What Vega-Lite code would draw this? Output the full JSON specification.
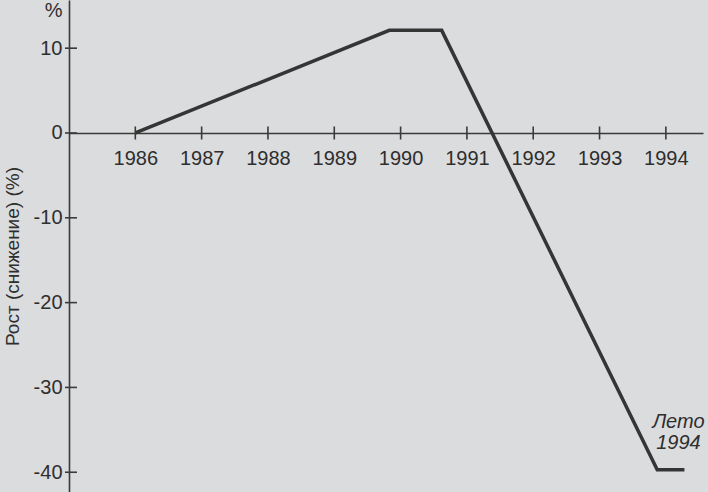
{
  "$schema": "https://vega.github.io/schema/vega-lite/v6.json",
  "autosize": "none",
  "width": 634,
  "height": 492,
  "padding": {"left": 69, "top": 0, "right": 5, "bottom": 0},
  "background": "#dbdcdd",
  "config": {
    "view": {"stroke": null},
    "font": "Liberation Sans",
    "axis": {"domainColor": "#3a3a3a", "domainWidth": 1.6, "labelColor": "#2e2e2e", "labelFontSize": 20, "labelFont": "Liberation Sans", "grid": false, "ticks": false, "tickSize": 0}
  },
  "datasets": {
    "series": [
      {"year": 1986, "value": 0},
      {"year": 1989.83, "value": 12.1},
      {"year": 1990.62, "value": 12.1},
      {"year": 1993.87, "value": -39.7},
      {"year": 1994.28, "value": -39.7}
    ],
    "xticks": [
      {"year": 1986, "value": 0}, {"year": 1987, "value": 0}, {"year": 1988, "value": 0},
      {"year": 1989, "value": 0}, {"year": 1990, "value": 0}, {"year": 1991, "value": 0},
      {"year": 1992, "value": 0}, {"year": 1993, "value": 0}, {"year": 1994, "value": 0}
    ],
    "yticks": [
      {"year": 1985, "value": 10}, {"year": 1985, "value": 0}, {"year": 1985, "value": -10},
      {"year": 1985, "value": -20}, {"year": 1985, "value": -30}, {"year": 1985, "value": -40}
    ],
    "note": [
      {"year": 1994.19, "value": -34.1, "text": ["Лето", "1994"]}
    ]
  },
  "layer": [
    {
      "data": {"name": "series"},
      "mark": {"type": "line", "color": "#353535", "strokeWidth": 3.5, "strokeJoin": "miter", "strokeCap": "butt", "clip": false},
      "encoding": {
        "x": {"field": "year", "type": "quantitative", "scale": {"domain": [1985, 1994.56], "nice": false, "zero": false},
          "axis": {"values": [1986, 1987, 1988, 1989, 1990, 1991, 1992, 1993, 1994], "format": "d", "title": null, "offset": -359, "labelPadding": 15, "labelBaseline": "top"}},
        "y": {"field": "value", "type": "quantitative", "scale": {"domain": [-42.33, 15.68], "nice": false, "zero": false},
          "axis": {"values": [14.5, 10, 0, -10, -20, -30, -40], "labelExpr": "datum.value > 12 ? '%' : '' + datum.value", "labelPadding": 7, "labelBaseline": "middle",
            "title": "Рост (снижение) (%)", "titleFontSize": 19, "titleFontWeight": "normal", "titleColor": "#2e2e2e", "titleFont": "Liberation Sans",
            "titleAngle": -90, "titleX": -57, "titleY": 256, "titleAlign": "center", "titleBaseline": "middle"}}
      }
    },
    {
      "data": {"name": "xticks"},
      "mark": {"type": "tick", "orient": "vertical", "size": 13, "thickness": 1.6, "color": "#3a3a3a", "opacity": 1},
      "encoding": {
        "x": {"field": "year", "type": "quantitative"},
        "y": {"field": "value", "type": "quantitative"}
      }
    },
    {
      "data": {"name": "yticks"},
      "mark": {"type": "tick", "orient": "horizontal", "size": 12, "thickness": 1.6, "color": "#3a3a3a", "opacity": 1, "xOffset": 2},
      "encoding": {
        "x": {"field": "year", "type": "quantitative"},
        "y": {"field": "value", "type": "quantitative"}
      }
    },
    {
      "data": {"name": "note"},
      "mark": {"type": "text", "fontSize": 20, "fontStyle": "italic", "font": "Liberation Sans", "color": "#2e2e2e", "align": "center", "baseline": "middle", "lineHeight": 21},
      "encoding": {
        "x": {"field": "year", "type": "quantitative"},
        "y": {"field": "value", "type": "quantitative"},
        "text": {"field": "text"}
      }
    }
  ]
}
